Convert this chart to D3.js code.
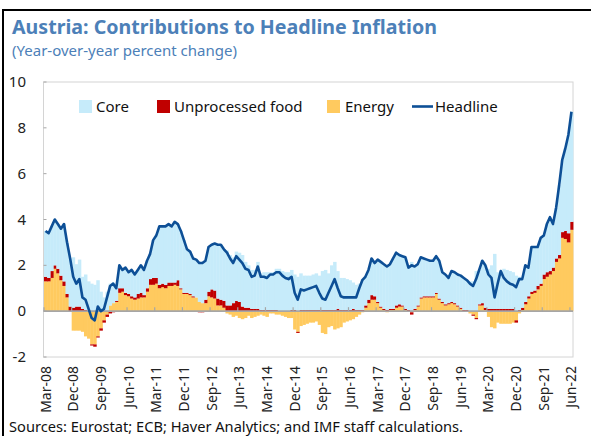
<!DOCTYPE html>
<html>
<head>
<meta charset="utf-8">
<script src="https://cdn.jsdelivr.net/npm/d3@7"></script>
<style>
  body { margin: 0; background: #ffffff; }
  svg { display: block; font-family: "Noto Sans", "DejaVu Sans", sans-serif; }
</style>
</head>
<body>
<div id="chart"></div>
<script>
// monthly data, Mar-08 .. Jun-22 (one row per year)
var headline = [
  3.5, 3.4, 3.7, 4.0, 3.8, 3.6, 3.8, 3.0, 2.3, 1.5,
  1.2, 1.4, 0.6, 0.5, 0.1, -0.3, -0.4, 0.2, 0.0, 0.1, 0.6, 1.1,
  1.2, 1.0, 2.0, 1.8, 1.9, 1.7, 1.8, 1.6, 1.8, 2.0, 1.8, 2.2,
  2.5, 3.1, 3.3, 3.7, 3.7, 3.7, 3.8, 3.7, 3.9, 3.8, 3.5, 3.1,
  2.7, 2.6, 2.3, 2.25, 2.1, 2.1, 2.2, 2.8, 2.9, 2.95, 2.9, 2.9,
  2.7, 2.55, 2.3, 2.1, 2.4, 2.25, 2.1, 1.85, 1.8, 1.5, 1.55, 1.95,
  1.5, 1.5, 1.45, 1.6, 1.6, 1.7, 1.7, 1.55, 1.45, 1.4, 1.5, 0.8,
  0.5, 0.95, 0.9, 0.95, 1.0, 1.05, 1.1, 0.8, 0.55, 0.5, 0.8, 1.1,
  1.4, 1.0, 0.65, 0.6, 0.6, 0.6, 0.6, 0.6, 1.0, 1.35, 1.5, 1.8,
  2.3, 2.1, 2.25, 2.15, 2.05, 1.95, 2.05, 2.3, 2.55, 2.45, 2.4, 2.35,
  1.9, 2.0, 1.95, 2.05, 2.35, 2.3, 2.25, 2.2, 2.2, 2.4, 2.2, 1.7,
  1.6, 1.45, 1.75, 1.7, 1.6, 1.55, 1.45, 1.35, 1.2, 1.1, 1.4, 1.8,
  2.2, 2.0, 1.6, 1.45, 0.6, 1.2, 1.75, 1.45, 1.3, 1.2, 1.15, 1.05,
  1.4, 1.4, 2.0, 1.9, 2.8, 2.8, 2.8, 3.2, 3.3, 3.8, 4.1, 3.8,
  4.5, 5.5, 6.6, 7.1, 7.7, 8.7
];

var energy = [
  1.3, 1.3, 1.45, 1.85, 1.65, 1.35, 1.1, 0.6, 0.0, -0.85,
  -0.85, -0.85, -0.9, -1.1, -1.2, -1.45, -1.45, -1.1, -0.75, -0.4, -0.15, 0.25,
  0.35, 0.4, 0.8, 0.85, 0.7, 0.65, 0.55, 0.5, 0.55, 0.6, 0.6, 0.85,
  1.15, 1.15, 1.2, 1.0, 1.05, 1.0, 1.1, 1.1, 1.15, 1.1, 0.95, 0.75,
  0.75, 0.7, 0.6, 0.6, 0.4, 0.35, 0.35, 0.65, 0.6, 0.55, 0.25, 0.25,
  0.15, -0.1, -0.15, -0.25, -0.2, -0.3, -0.35, -0.3, -0.2, -0.3, -0.25, -0.2,
  -0.15, -0.2, -0.25, -0.1, -0.1, -0.15, -0.15, -0.2, -0.25, -0.3, -0.3, -0.8,
  -0.9, -0.65, -0.6, -0.55, -0.5, -0.5, -0.45, -0.6, -0.95, -1.0, -0.7, -0.65,
  -0.8, -0.75, -0.7, -0.5, -0.45, -0.4, -0.35, -0.25, -0.15, -0.05, 0.15, 0.35,
  0.5, 0.5, 0.35, 0.15, 0.05, -0.05, 0.05, 0.05, 0.15, 0.2, 0.2, 0.05,
  0.0, -0.05, 0.05, 0.2, 0.55, 0.6, 0.6, 0.6, 0.6, 0.75, 0.5, 0.35,
  0.25, 0.3, 0.35, 0.3, 0.2, 0.1, 0.0, 0.0, -0.1, -0.15, -0.3, 0.25,
  0.25, 0.05, -0.25, -0.7, -0.75, -0.5, -0.55, -0.55, -0.55, -0.55, -0.5, -0.4,
  -0.1, 0.05, 0.3, 0.55, 0.75, 0.8, 0.95, 1.1, 1.4, 1.5, 1.6, 1.75,
  2.15, 2.3, 3.2, 3.15, 3.0, 3.55
];

var food = [
  0.2, 0.15, 0.3, 0.15, 0.2, 0.2, 0.2, 0.15, 0.2, 0.15,
  0.2, 0.2, 0.1, 0.05, 0.0, -0.05, -0.1, -0.05, -0.1, -0.1, -0.1, -0.1,
  -0.05, 0.05, 0.2, 0.15, 0.1, 0.1, 0.1, 0.1, 0.2, 0.2, 0.1, 0.15,
  0.25, 0.3, 0.25, 0.15, 0.15, 0.15, 0.15, 0.15, 0.1, 0.25, 0.05, 0.05,
  0.05, 0.05, 0.05, 0.0, -0.05, -0.05, 0.15, 0.2, 0.35, 0.35, 0.3, 0.25,
  0.3, 0.25, 0.25, 0.35, 0.45, 0.4, 0.2, 0.15, 0.15, 0.1, 0.1, 0.1,
  0.05, 0.05, 0.05, 0.05, 0.05, 0.05, 0.0, 0.0, 0.0, 0.0, 0.05, 0.05,
  -0.05, 0.05, 0.05, 0.05, 0.05, 0.05, 0.05, 0.05, 0.05, 0.05, 0.05, 0.05,
  0.05, 0.1, 0.05, 0.05, 0.05, 0.05, 0.1, 0.05, 0.05, 0.05, 0.1, 0.15,
  0.2, 0.15, 0.05, 0.05, 0.05, 0.05, 0.05, 0.05, 0.1, 0.1, 0.05, 0.05,
  0.05, -0.1, 0.05, 0.05, 0.05, 0.05, 0.05, 0.05, 0.05, 0.05, 0.05, 0.05,
  0.05, 0.05, 0.05, 0.05, 0.05, 0.05, 0.05, 0.05, 0.0, -0.05, -0.05, 0.05,
  0.1, 0.1, 0.1, 0.1, 0.1, 0.1, 0.1, 0.1, 0.1, 0.1, 0.1, -0.1,
  0.05, 0.1, 0.1, 0.1, 0.1, 0.1, 0.15, 0.1, 0.2, 0.2, 0.15, 0.15,
  0.15, 0.15, 0.25, 0.35, 0.4, 0.35
];

var core = [
  2.0, 1.95, 1.95, 2.0, 1.95, 2.05, 2.5, 2.25, 2.1, 2.2,
  1.85, 2.05, 1.4, 1.55, 1.3, 1.2, 1.15, 1.35, 0.85, 0.6, 0.85, 0.95,
  0.9, 0.55, 1.0, 0.8, 1.1, 0.95, 1.15, 1.0, 1.05, 1.2, 1.1, 1.2,
  1.1, 1.65, 1.85, 2.55, 2.5, 2.55, 2.55, 2.45, 2.65, 2.45, 2.5, 2.3,
  1.9, 1.85, 1.65, 1.65, 1.75, 1.8, 1.7, 1.95, 1.95, 2.05, 2.35, 2.4,
  2.25, 2.4, 2.2, 2.0, 2.15, 2.15, 2.25, 2.0, 1.85, 1.7, 1.7, 2.05,
  1.6, 1.65, 1.65, 1.65, 1.65, 1.8, 1.85, 1.75, 1.7, 1.7, 1.75, 1.55,
  1.5, 1.6, 1.5, 1.5, 1.5, 1.55, 1.6, 1.5, 1.7, 1.75, 1.6, 1.95,
  2.1, 1.65, 1.4, 1.4, 1.35, 1.3, 1.15, 1.1, 1.15, 1.35, 1.25, 1.3,
  1.6, 1.45, 1.85, 1.95, 1.95, 1.95, 1.95, 2.2, 2.3, 2.15, 2.15, 2.25,
  1.85, 2.15, 1.85, 1.8, 1.75, 1.65, 1.6, 1.55, 1.55, 1.6, 1.65, 1.3,
  1.3, 1.1, 1.35, 1.35, 1.35, 1.4, 1.4, 1.3, 1.3, 1.3, 1.75, 1.5,
  1.85, 1.85, 1.75, 1.9, 2.4, 1.6, 1.65, 1.75, 1.7, 1.65, 1.6, 1.55,
  1.45, 1.25, 1.6, 1.25, 1.95, 1.9, 1.7, 2.0, 1.7, 2.1, 2.35, 1.9,
  2.2, 3.05, 3.15, 3.6, 4.3, 4.8
];

var tickLabels = ["Mar-08", "Dec-08", "Sep-09", "Jun-10", "Mar-11", "Dec-11", "Sep-12",
  "Jun-13", "Mar-14", "Dec-14", "Sep-15", "Jun-16", "Mar-17", "Dec-17", "Sep-18",
  "Jun-19", "Mar-20", "Dec-20", "Sep-21", "Jun-22"];
var yTicks = [-2, 0, 2, 4, 6, 8, 10];

var seriesKeys = ["energy", "food", "core"];
var seriesColors = { core: "#c6ebfa", food: "#c00000", energy: "#ffca5f" };
var lineColor = "#0d4f96";
var blueText = "#4c80b8";

var width = 591, height = 436;
var plot = { left: 43.5, right: 573, top: 82, bottom: 357 };

// month categories
var fmt = d3.timeFormat("%b-%y");
var months = d3.timeMonth.range(new Date(2008, 2, 1), new Date(2022, 6, 1)).map(fmt);

var rows = months.map(function(m, i) {
  return { month: m, core: core[i], food: food[i], energy: energy[i], headline: headline[i] };
});

var svg = d3.select("#chart").append("svg")
  .attr("width", width).attr("height", height);

// outer black frame (left + top)
svg.append("path")
  .attr("d", "M3,436 L3,10 L591,10")
  .attr("fill", "none")
  .attr("stroke", "#000")
  .attr("stroke-width", 2);

svg.append("text")
  .attr("x", 12).attr("y", 34)
  .attr("font-size", 20).attr("font-weight", "bold")
  .attr("fill", blueText)
  .attr("textLength", 425).attr("lengthAdjust", "spacingAndGlyphs")
  .text("Austria: Contributions to Headline Inflation");

svg.append("text")
  .attr("x", 12).attr("y", 56)
  .attr("font-size", 14.5)
  .attr("fill", blueText)
  .attr("textLength", 225).attr("lengthAdjust", "spacingAndGlyphs")
  .text("(Year-over-year percent change)");

var x = d3.scaleBand().domain(months).range([44, plot.right]).paddingInner(0).paddingOuter(0);
var y = d3.scaleLinear().domain([-2, 10]).range([plot.bottom, plot.top]);

// plot frame
svg.append("rect")
  .attr("x", plot.left).attr("y", plot.top)
  .attr("width", plot.right - plot.left).attr("height", plot.bottom - plot.top)
  .attr("fill", "none").attr("stroke", "#d4d4d4").attr("stroke-width", 1);

var stack = d3.stack().keys(seriesKeys).offset(d3.stackOffsetDiverging);
var layers = stack(rows);

var layerGroups = svg.selectAll("g.layer")
  .data(layers)
  .enter()
  .append("g")
  .attr("class", "layer")
  .attr("fill", function(d) { return seriesColors[d.key]; });

layerGroups.selectAll("rect")
  .data(function(d) { return d; })
  .enter()
  .append("rect")
  .attr("x", function(d) { return x(d.data.month); })
  .attr("width", x.bandwidth() + 0.4)
  .attr("y", function(d) { return y(Math.max(d[0], d[1])); })
  .attr("height", function(d) { return Math.abs(y(d[0]) - y(d[1])); });

// zero line
svg.append("line")
  .attr("x1", plot.left).attr("x2", plot.right)
  .attr("y1", y(0)).attr("y2", y(0))
  .attr("stroke", "#a6a6a6").attr("stroke-width", 1.6);

// y axis: inward ticks and labels
var yAxis = svg.append("g").attr("class", "y-axis");
yAxis.selectAll("line")
  .data(yTicks)
  .enter()
  .append("line")
  .attr("x1", plot.left).attr("x2", plot.left + 3)
  .attr("y1", function(d) { return y(d); })
  .attr("y2", function(d) { return y(d); })
  .attr("stroke", "#a6a6a6");
yAxis.selectAll("text")
  .data(yTicks)
  .enter()
  .append("text")
  .attr("x", 26)
  .attr("y", function(d) { return y(d) + 5; })
  .attr("text-anchor", "end")
  .attr("font-size", 15)
  .attr("fill", "#222")
  .text(function(d) { return d; });

// x axis: ticks on the zero line, rotated labels below the plot
var xAxis = svg.append("g").attr("class", "x-axis");
xAxis.selectAll("line")
  .data(tickLabels)
  .enter()
  .append("line")
  .attr("x1", function(d) { return x(d); })
  .attr("x2", function(d) { return x(d); })
  .attr("y1", y(0)).attr("y2", y(0) - 4)
  .attr("stroke", "#a6a6a6").attr("stroke-width", 1.2);
xAxis.selectAll("text")
  .data(tickLabels)
  .enter()
  .append("text")
  .attr("transform", function(d) {
    return "translate(" + (x(d) + x.bandwidth() / 2 + 5) + "," + 366 + ") rotate(-90)";
  })
  .attr("text-anchor", "end")
  .attr("font-size", 14)
  .attr("fill", "#222")
  .text(function(d) { return d; });

// headline line
var line = d3.line()
  .x(function(d) { return x(d.month) + x.bandwidth() / 2; })
  .y(function(d) { return y(d.headline); });

svg.append("path")
  .datum(rows)
  .attr("d", line)
  .attr("fill", "none")
  .attr("stroke", lineColor)
  .attr("stroke-width", 2.6)
  .attr("stroke-linejoin", "round");

// legend
var legend = svg.append("g").attr("class", "legend").attr("font-size", 15).attr("fill", "#111");
var legendItems = [
  { label: "Core", key: "core", sx: 79, tx: 96 },
  { label: "Unprocessed food", key: "food", sx: 157, tx: 174 },
  { label: "Energy", key: "energy", sx: 327, tx: 345 }
];
legendItems.forEach(function(item) {
  legend.append("rect")
    .attr("x", item.sx).attr("y", 100)
    .attr("width", 13).attr("height", 13)
    .attr("fill", seriesColors[item.key]);
  legend.append("text")
    .attr("x", item.tx).attr("y", 112)
    .text(item.label);
});
legend.append("line")
  .attr("x1", 412).attr("x2", 433)
  .attr("y1", 106.5).attr("y2", 106.5)
  .attr("stroke", lineColor).attr("stroke-width", 2.6);
legend.append("text")
  .attr("x", 435).attr("y", 112)
  .text("Headline");

svg.append("text")
  .attr("x", 9).attr("y", 432)
  .attr("font-size", 15)
  .attr("fill", "#111")
  .attr("textLength", 454).attr("lengthAdjust", "spacingAndGlyphs")
  .text("Sources: Eurostat; ECB; Haver Analytics; and IMF staff calculations.");
</script>
</body>
</html>
